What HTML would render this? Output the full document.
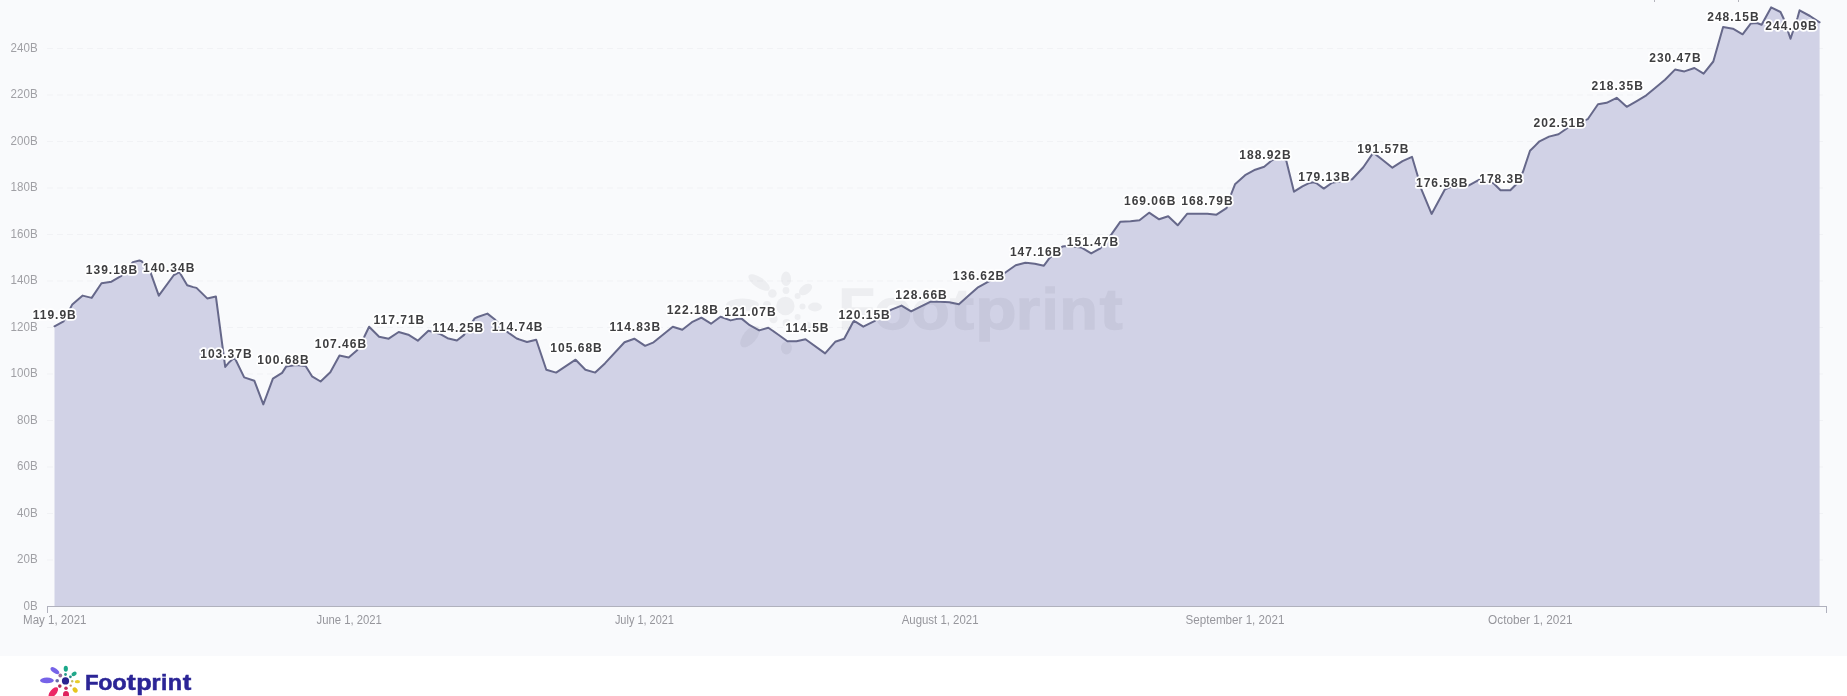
<!DOCTYPE html>
<html><head><meta charset="utf-8"><title>Footprint chart</title>
<style>
html,body{margin:0;padding:0;background:#ffffff;}
body{width:1847px;height:696px;overflow:hidden;position:relative;}
svg{display:block;position:absolute;left:0;top:0;will-change:transform;}
.yl text{font-family:"Liberation Sans",Arial,sans-serif;font-size:12px;fill:#a0a0a5;text-anchor:end;}
.xl text{font-family:"Liberation Sans",Arial,sans-serif;font-size:12px;fill:#96969c;text-anchor:middle;}
.lb text{font-family:"Liberation Sans",Arial,sans-serif;font-size:12px;font-weight:bold;fill:#3e3e40;text-anchor:middle;letter-spacing:1px;paint-order:stroke;stroke:#ffffff;stroke-width:3.5px;stroke-linejoin:round;}
</style></head>
<body>
<svg width="1847" height="696" viewBox="0 0 1847 696">
<rect x="0" y="0" width="1847" height="656" fill="#f9fafc"/>
<g stroke="#f1f2f5" stroke-width="1" stroke-dasharray="6 4">
<line x1="47" x2="1827" y1="560.0" y2="560.0"/>
<line x1="47" x2="1827" y1="513.5" y2="513.5"/>
<line x1="47" x2="1827" y1="467.0" y2="467.0"/>
<line x1="47" x2="1827" y1="420.5" y2="420.5"/>
<line x1="47" x2="1827" y1="374.0" y2="374.0"/>
<line x1="47" x2="1827" y1="327.5" y2="327.5"/>
<line x1="47" x2="1827" y1="281.0" y2="281.0"/>
<line x1="47" x2="1827" y1="234.5" y2="234.5"/>
<line x1="47" x2="1827" y1="188.0" y2="188.0"/>
<line x1="47" x2="1827" y1="141.5" y2="141.5"/>
<line x1="47" x2="1827" y1="95.0" y2="95.0"/>
<line x1="47" x2="1827" y1="48.5" y2="48.5"/>
</g>
<path d="M54.5,326.3 L63.6,321.3 L72.3,304.4 L82.7,295.6 L91.7,297.9 L101.5,283.3 L111.5,281.7 L121.3,275.9 L132.9,262.1 L139.4,260.5 L141.6,261.2 L150.6,272.6 L158.8,295.7 L173.9,275.0 L179.5,272.2 L187.2,285.3 L193.3,287.1 L196.5,287.9 L207.2,298.4 L215.9,296.5 L225.2,366.9 L229.5,361.9 L234.5,357.5 L244.2,377.4 L254.3,380.7 L263.3,404.4 L272.9,378.7 L282.1,372.9 L286.1,366.6 L296.0,365.0 L305.6,366.0 L312.0,376.3 L320.6,381.5 L330.3,372.3 L339.5,355.6 L348.7,357.4 L357.4,349.9 L364.3,336.7 L369.1,326.7 L379.1,336.7 L388.7,338.7 L398.7,332.0 L408.3,334.7 L417.8,340.7 L428.4,330.7 L432.4,331.7 L439.5,333.7 L447.5,338.2 L456.9,340.5 L463.8,335.1 L474.7,318.4 L477.6,317.0 L487.4,313.6 L494.3,319.0 L506.9,331.6 L516.7,338.5 L527.0,342.0 L536.2,339.7 L546.3,369.8 L556.1,372.6 L575.6,359.7 L585.4,369.8 L595.2,372.6 L604.9,363.4 L624.5,342.2 L634.3,338.7 L645.1,345.8 L653.6,342.3 L672.8,326.7 L682.3,329.7 L691.9,322.2 L701.4,317.7 L711.0,323.7 L720.5,316.7 L730.6,320.4 L736.1,319.1 L741.6,318.6 L749.7,325.2 L759.2,330.4 L768.3,327.7 L778.4,334.7 L787.4,341.3 L796.5,341.3 L805.5,339.3 L825.1,353.4 L835.2,341.8 L844.2,338.8 L853.8,320.7 L863.3,326.7 L874.4,321.2 L882.0,315.0 L891.5,309.6 L901.5,305.6 L911.1,311.4 L920.1,306.8 L930.2,301.8 L940.2,301.8 L949.3,302.3 L958.9,304.3 L968.4,295.8 L977.5,287.7 L987.5,282.2 L1005.7,272.3 L1015.7,265.2 L1025.3,262.7 L1034.8,263.7 L1043.9,265.7 L1049.4,258.2 L1062.5,246.6 L1066.5,246.1 L1081.2,247.4 L1091.2,253.4 L1100.3,248.4 L1111.4,234.3 L1120.4,221.7 L1130.5,221.2 L1139.5,220.2 L1149.1,212.7 L1159.1,219.3 L1168.2,216.2 L1177.7,225.3 L1187.3,213.7 L1197.3,213.7 L1207.4,213.7 L1216.5,214.7 L1226.5,208.2 L1231.0,194.5 L1235.0,184.3 L1245.1,175.2 L1255.2,169.7 L1264.2,166.7 L1272.0,160.3 L1281.0,157.5 L1286.3,160.7 L1294.0,191.7 L1302.4,186.3 L1308.5,183.3 L1313.5,182.3 L1316.5,183.3 L1323.8,188.6 L1332.1,182.8 L1342.0,181.0 L1352.2,179.3 L1363.3,167.2 L1373.3,152.6 L1382.4,159.7 L1392.4,167.7 L1402.5,161.2 L1412.0,156.8 L1417.5,175.2 L1421.1,188.7 L1431.6,213.9 L1444.7,189.7 L1450.0,187.0 L1460.0,187.0 L1469.4,185.2 L1479.4,179.7 L1493.5,183.2 L1500.5,190.2 L1510.3,190.3 L1515.8,184.8 L1522.9,172.1 L1530.0,150.8 L1539.5,141.3 L1549.0,136.6 L1558.5,134.2 L1566.4,128.7 L1587.7,119.2 L1598.0,104.3 L1606.6,102.8 L1616.7,97.8 L1626.7,106.8 L1636.3,101.3 L1646.3,95.3 L1655.4,87.7 L1665.0,79.7 L1675.0,69.6 L1684.4,71.4 L1694.4,68.0 L1703.6,73.6 L1713.3,61.5 L1723.1,27.0 L1732.9,28.7 L1742.6,34.3 L1750.7,23.6 L1757.0,23.0 L1761.6,24.7 L1771.1,7.4 L1780.5,12.0 L1783.7,18.7 L1790.5,38.8 L1797.6,17.5 L1799.6,10.3 L1810.0,16.0 L1819.6,22.3 L1819.6,606 L54.5,606 Z" fill="#d1d2e6"/>
<rect x="1654" y="0" width="1" height="2" fill="#b4b4bc"/>
<rect x="1738" y="0" width="1" height="2" fill="#b4b4bc"/>
<g opacity="0.055">
<ellipse cx="759.1" cy="282.5" rx="12.5" ry="5.2" transform="rotate(35 759.1 282.5)" fill="#303040"/>
<ellipse cx="786.1" cy="278.8" rx="5.0" ry="7.2" transform="rotate(0 786.1 278.8)" fill="#303040"/>
<ellipse cx="805.5" cy="289.5" rx="7.5" ry="4.6" transform="rotate(-35 805.5 289.5)" fill="#303040"/>
<ellipse cx="742.5" cy="305.0" rx="16.5" ry="6.5" transform="rotate(0 742.5 305.0)" fill="#303040"/>
<ellipse cx="815.0" cy="307.0" rx="7.0" ry="4.4" transform="rotate(0 815.0 307.0)" fill="#303040"/>
<ellipse cx="808.5" cy="327.5" rx="6.5" ry="5.0" transform="rotate(50 808.5 327.5)" fill="#303040"/>
<ellipse cx="750.0" cy="336.5" rx="13.0" ry="6.5" transform="rotate(-50 750.0 336.5)" fill="#303040"/>
<ellipse cx="786.4" cy="348.0" rx="5.5" ry="6.5" transform="rotate(0 786.4 348.0)" fill="#303040"/>
<circle cx="772.4" cy="293.5" r="4.3" fill="#303040"/>
<circle cx="767.0" cy="305.0" r="4.0" fill="#303040"/>
<circle cx="786.0" cy="290.5" r="3.4" fill="#303040"/>
<circle cx="797.6" cy="296.0" r="3.0" fill="#303040"/>
<circle cx="802.5" cy="306.5" r="3.0" fill="#303040"/>
<circle cx="797.6" cy="317.0" r="3.0" fill="#303040"/>
<circle cx="786.6" cy="323.0" r="4.0" fill="#303040"/>
<circle cx="773.5" cy="319.0" r="4.2" fill="#303040"/>
<circle cx="785.4" cy="306.0" r="9.2" fill="#303040"/>
<g transform="translate(842,328.7) scale(2.667) translate(-86.2,-689.7)" font-family="Liberation Sans,Arial,sans-serif" font-weight="bold" font-size="21.5" fill="#303040" stroke="#303040" stroke-width="0.5">
<text transform="translate(84.93,689.7) scale(1.037,1)">F</text>
<text transform="translate(98.22,689.7) scale(1.082,1)">o</text>
<text transform="translate(112.20,689.7) scale(1.100,1)">o</text>
<text transform="translate(126.70,689.7) scale(1.257,1)">t</text>
<text transform="translate(136.20,689.7) scale(1.179,1)">p</text>
<text transform="translate(151.44,689.7) scale(1.080,1)">r</text>
<text transform="translate(161.07,689.7) scale(1.052,1)">i</text>
<text transform="translate(167.72,689.7) scale(1.093,1)">n</text>
<text transform="translate(182.82,689.7) scale(1.197,1)">t</text>
</g>
</g>
<path d="M54.5,326.3 L63.6,321.3 L72.3,304.4 L82.7,295.6 L91.7,297.9 L101.5,283.3 L111.5,281.7 L121.3,275.9 L132.9,262.1 L139.4,260.5 L141.6,261.2 L150.6,272.6 L158.8,295.7 L173.9,275.0 L179.5,272.2 L187.2,285.3 L193.3,287.1 L196.5,287.9 L207.2,298.4 L215.9,296.5 L225.2,366.9 L229.5,361.9 L234.5,357.5 L244.2,377.4 L254.3,380.7 L263.3,404.4 L272.9,378.7 L282.1,372.9 L286.1,366.6 L296.0,365.0 L305.6,366.0 L312.0,376.3 L320.6,381.5 L330.3,372.3 L339.5,355.6 L348.7,357.4 L357.4,349.9 L364.3,336.7 L369.1,326.7 L379.1,336.7 L388.7,338.7 L398.7,332.0 L408.3,334.7 L417.8,340.7 L428.4,330.7 L432.4,331.7 L439.5,333.7 L447.5,338.2 L456.9,340.5 L463.8,335.1 L474.7,318.4 L477.6,317.0 L487.4,313.6 L494.3,319.0 L506.9,331.6 L516.7,338.5 L527.0,342.0 L536.2,339.7 L546.3,369.8 L556.1,372.6 L575.6,359.7 L585.4,369.8 L595.2,372.6 L604.9,363.4 L624.5,342.2 L634.3,338.7 L645.1,345.8 L653.6,342.3 L672.8,326.7 L682.3,329.7 L691.9,322.2 L701.4,317.7 L711.0,323.7 L720.5,316.7 L730.6,320.4 L736.1,319.1 L741.6,318.6 L749.7,325.2 L759.2,330.4 L768.3,327.7 L778.4,334.7 L787.4,341.3 L796.5,341.3 L805.5,339.3 L825.1,353.4 L835.2,341.8 L844.2,338.8 L853.8,320.7 L863.3,326.7 L874.4,321.2 L882.0,315.0 L891.5,309.6 L901.5,305.6 L911.1,311.4 L920.1,306.8 L930.2,301.8 L940.2,301.8 L949.3,302.3 L958.9,304.3 L968.4,295.8 L977.5,287.7 L987.5,282.2 L1005.7,272.3 L1015.7,265.2 L1025.3,262.7 L1034.8,263.7 L1043.9,265.7 L1049.4,258.2 L1062.5,246.6 L1066.5,246.1 L1081.2,247.4 L1091.2,253.4 L1100.3,248.4 L1111.4,234.3 L1120.4,221.7 L1130.5,221.2 L1139.5,220.2 L1149.1,212.7 L1159.1,219.3 L1168.2,216.2 L1177.7,225.3 L1187.3,213.7 L1197.3,213.7 L1207.4,213.7 L1216.5,214.7 L1226.5,208.2 L1231.0,194.5 L1235.0,184.3 L1245.1,175.2 L1255.2,169.7 L1264.2,166.7 L1272.0,160.3 L1281.0,157.5 L1286.3,160.7 L1294.0,191.7 L1302.4,186.3 L1308.5,183.3 L1313.5,182.3 L1316.5,183.3 L1323.8,188.6 L1332.1,182.8 L1342.0,181.0 L1352.2,179.3 L1363.3,167.2 L1373.3,152.6 L1382.4,159.7 L1392.4,167.7 L1402.5,161.2 L1412.0,156.8 L1417.5,175.2 L1421.1,188.7 L1431.6,213.9 L1444.7,189.7 L1450.0,187.0 L1460.0,187.0 L1469.4,185.2 L1479.4,179.7 L1493.5,183.2 L1500.5,190.2 L1510.3,190.3 L1515.8,184.8 L1522.9,172.1 L1530.0,150.8 L1539.5,141.3 L1549.0,136.6 L1558.5,134.2 L1566.4,128.7 L1587.7,119.2 L1598.0,104.3 L1606.6,102.8 L1616.7,97.8 L1626.7,106.8 L1636.3,101.3 L1646.3,95.3 L1655.4,87.7 L1665.0,79.7 L1675.0,69.6 L1684.4,71.4 L1694.4,68.0 L1703.6,73.6 L1713.3,61.5 L1723.1,27.0 L1732.9,28.7 L1742.6,34.3 L1750.7,23.6 L1757.0,23.0 L1761.6,24.7 L1771.1,7.4 L1780.5,12.0 L1783.7,18.7 L1790.5,38.8 L1797.6,17.5 L1799.6,10.3 L1810.0,16.0 L1819.6,22.3" fill="none" stroke="#66688a" stroke-width="2" stroke-linejoin="round" stroke-linecap="round"/>
<path d="M47,606.5 H1827" stroke="#b0b1bd" stroke-width="1"/>
<path d="M47.5,606 V613 M1826.5,606 V613" stroke="#b0b1bd" stroke-width="1"/>
<g class="yl">
<text x="37.6" y="609.7" textLength="14.13" lengthAdjust="spacingAndGlyphs">0B</text>
<text x="37.6" y="563.2" textLength="20.56" lengthAdjust="spacingAndGlyphs">20B</text>
<text x="37.6" y="516.7" textLength="20.56" lengthAdjust="spacingAndGlyphs">40B</text>
<text x="37.6" y="470.2" textLength="20.56" lengthAdjust="spacingAndGlyphs">60B</text>
<text x="37.6" y="423.7" textLength="20.56" lengthAdjust="spacingAndGlyphs">80B</text>
<text x="37.6" y="377.2" textLength="26.99" lengthAdjust="spacingAndGlyphs">100B</text>
<text x="37.6" y="330.7" textLength="26.99" lengthAdjust="spacingAndGlyphs">120B</text>
<text x="37.6" y="284.2" textLength="26.99" lengthAdjust="spacingAndGlyphs">140B</text>
<text x="37.6" y="237.7" textLength="26.99" lengthAdjust="spacingAndGlyphs">160B</text>
<text x="37.6" y="191.2" textLength="26.99" lengthAdjust="spacingAndGlyphs">180B</text>
<text x="37.6" y="144.7" textLength="26.99" lengthAdjust="spacingAndGlyphs">200B</text>
<text x="37.6" y="98.2" textLength="26.99" lengthAdjust="spacingAndGlyphs">220B</text>
<text x="37.6" y="51.7" textLength="26.99" lengthAdjust="spacingAndGlyphs">240B</text>
</g>
<g class="xl">
<text x="54.8" y="623.6" textLength="63.4" lengthAdjust="spacingAndGlyphs">May 1, 2021</text>
<text x="349.2" y="623.6" textLength="65.4" lengthAdjust="spacingAndGlyphs">June 1, 2021</text>
<text x="644.4" y="623.6" textLength="59.0" lengthAdjust="spacingAndGlyphs">July 1, 2021</text>
<text x="940.1" y="623.6" textLength="76.8" lengthAdjust="spacingAndGlyphs">August 1, 2021</text>
<text x="1235.0" y="623.6" textLength="98.9" lengthAdjust="spacingAndGlyphs">September 1, 2021</text>
<text x="1530.3" y="623.6" textLength="84.4" lengthAdjust="spacingAndGlyphs">October 1, 2021</text>
</g>
<g class="lb">
<text x="54.75" y="319.1">119.9B</text>
<text x="112.00" y="274.2">139.18B</text>
<text x="169.20" y="271.5">140.34B</text>
<text x="226.40" y="357.5">103.37B</text>
<text x="283.50" y="363.7">100.68B</text>
<text x="340.90" y="348.0">107.46B</text>
<text x="399.40" y="324.1">117.71B</text>
<text x="458.40" y="332.2">114.25B</text>
<text x="517.70" y="331.0">114.74B</text>
<text x="576.55" y="352.1">105.68B</text>
<text x="635.35" y="330.8">114.83B</text>
<text x="692.85" y="313.8">122.18B</text>
<text x="750.40" y="316.3">121.07B</text>
<text x="807.50" y="331.6">114.5B</text>
<text x="864.60" y="318.5">120.15B</text>
<text x="921.55" y="298.7">128.66B</text>
<text x="979.05" y="280.2">136.62B</text>
<text x="1036.10" y="255.7">147.16B</text>
<text x="1093.00" y="245.7">151.47B</text>
<text x="1150.15" y="204.8">169.06B</text>
<text x="1207.40" y="205.4">168.79B</text>
<text x="1265.50" y="158.6">188.92B</text>
<text x="1324.40" y="181.4">179.13B</text>
<text x="1383.35" y="152.5">191.57B</text>
<text x="1442.15" y="187.3">176.58B</text>
<text x="1501.60" y="183.3">178.3B</text>
<text x="1559.75" y="127.1">202.51B</text>
<text x="1617.65" y="90.3">218.35B</text>
<text x="1675.45" y="62.1">230.47B</text>
<text x="1733.40" y="21.0">248.15B</text>
<text x="1791.55" y="30.4">244.09B</text>
</g>
<g transform="translate(65.5,680.9) scale(1.0)">
<ellipse cx="-10.6" cy="-10.3" rx="5.0" ry="2.4" transform="rotate(35 -10.6 -10.3)" fill="#7663e8"/>
<ellipse cx="-18.6" cy="-0.5" rx="6.9" ry="2.8" transform="rotate(0 -18.6 -0.5)" fill="#7663e8"/>
<ellipse cx="0.3" cy="-12.1" rx="2.1" ry="3.0" transform="rotate(0 0.3 -12.1)" fill="#1aa889"/>
<ellipse cx="8.6" cy="-7.0" rx="2.8" ry="2.0" transform="rotate(-35 8.6 -7.0)" fill="#1fa88a"/>
<ellipse cx="11.9" cy="0.8" rx="2.6" ry="1.6" transform="rotate(0 11.9 0.8)" fill="#e9cc2a"/>
<ellipse cx="9.6" cy="9.1" rx="2.9" ry="2.2" transform="rotate(50 9.6 9.1)" fill="#e6c51e"/>
<ellipse cx="0.5" cy="13.8" rx="3.0" ry="3.6" transform="rotate(0 0.5 13.8)" fill="#e0245e"/>
<ellipse cx="-12.2" cy="11.6" rx="6.4" ry="3.1" transform="rotate(-50 -12.2 11.6)" fill="#ec2866"/>
<circle cx="-5.2" cy="-5.4" r="1.9" fill="#9a6f9a"/>
<circle cx="-8.3" cy="-0.2" r="1.8" fill="#6a6aa8"/>
<circle cx="0.0" cy="-6.4" r="1.4" fill="#2a9a8a"/>
<circle cx="4.9" cy="-4.1" r="1.4" fill="#2a8a8a"/>
<circle cx="6.7" cy="0.3" r="1.2" fill="#c8c060"/>
<circle cx="5.2" cy="4.7" r="1.2" fill="#d09060"/>
<circle cx="0.5" cy="7.3" r="1.8" fill="#c03060"/>
<circle cx="-5.7" cy="5.2" r="1.8" fill="#b03058"/>
<circle cx="0" cy="0" r="3.6" fill="#2a2490"/>
</g>
<g font-family="Liberation Sans,Arial,sans-serif" font-weight="bold" font-size="21.5" fill="#2b2596" stroke="#2b2596" stroke-width="0.5">
<text transform="translate(84.93,689.7) scale(1.037,1)">F</text>
<text transform="translate(98.22,689.7) scale(1.082,1)">o</text>
<text transform="translate(112.20,689.7) scale(1.100,1)">o</text>
<text transform="translate(126.70,689.7) scale(1.257,1)">t</text>
<text transform="translate(136.20,689.7) scale(1.179,1)">p</text>
<text transform="translate(151.44,689.7) scale(1.080,1)">r</text>
<text transform="translate(161.07,689.7) scale(1.052,1)">i</text>
<text transform="translate(167.72,689.7) scale(1.093,1)">n</text>
<text transform="translate(182.82,689.7) scale(1.197,1)">t</text>
</g>
</svg>
</body></html>
